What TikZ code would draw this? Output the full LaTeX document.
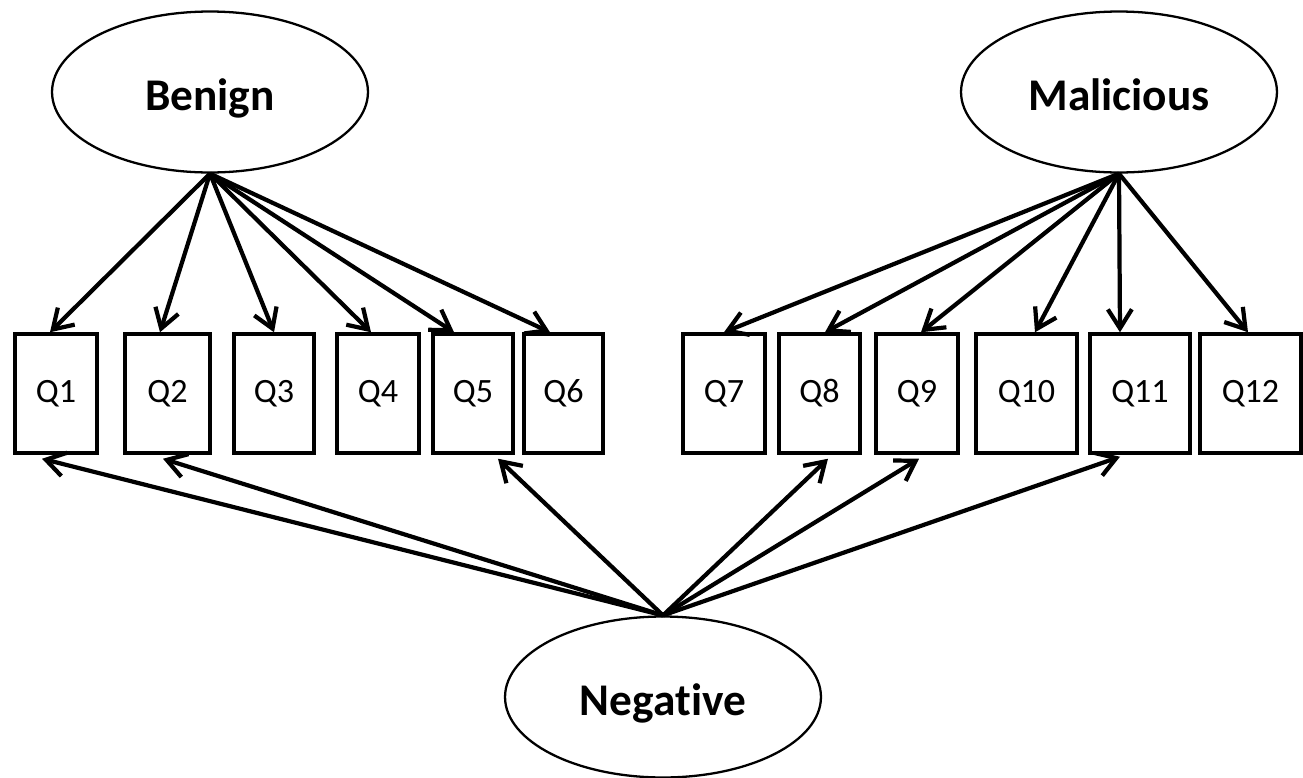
\documentclass[tikz,border=0pt]{standalone}
\usepackage{fontspec}
\setmainfont[Ligatures=NoCommon]{Carlito}
\usetikzlibrary{arrows.meta,calc,shapes.geometric}
\tikzset{
 latent/.style={ellipse,draw,line width=1.3pt,minimum width=6.32cm,minimum height=3.22cm,text height=0.72cm,text depth=0pt,font=\fontsize{25.8}{30}\selectfont\bfseries},
 item/.style={rectangle,draw,line width=2pt,minimum height=2.38cm,inner sep=0pt,font=\fontsize{19.4}{23}\selectfont},
 load/.style={line width=2.4pt,-{Straight Barb[length=0.38cm,width=0.48cm]}}
}
\begin{document}
\begin{tikzpicture}[x=0.02cm,y=-0.02cm]
 \useasboundingbox (0,0) rectangle (1303,778);
 \node[latent] (benign) at (210,92) {Benign};
 \node[latent] (malicious) at (1119,92) {Malicious};
 \node[latent] (negative) at (663,697) {Negative};
 \node[item,minimum width=1.64cm] (q1) at (56,393.5) {Q1};
 \node[item,minimum width=1.70cm] (q2) at (167.5,393.5) {Q2};
 \node[item,minimum width=1.60cm] (q3) at (274,393.5) {Q3};
 \node[item,minimum width=1.64cm] (q4) at (378,393.5) {Q4};
 \node[item,minimum width=1.60cm] (q5) at (473,393.5) {Q5};
 \node[item,minimum width=1.58cm] (q6) at (563.5,393.5) {Q6};
 \node[item,minimum width=1.64cm] (q7) at (724,393.5) {Q7};
 \node[item,minimum width=1.62cm] (q8) at (819.5,393.5) {Q8};
 \node[item,minimum width=1.64cm] (q9) at (917,393.5) {Q9};
 \node[item,minimum width=2.02cm] (q10) at (1026.5,393.5) {Q10};
 \node[item,minimum width=2.00cm] (q11) at (1140,393.5) {Q11};
 \node[item,minimum width=2.02cm] (q12) at (1250.5,393.5) {Q12};
 \draw[load] (benign.south) -- ([xshift=-0.12cm]q1.north);
 \draw[load] (benign.south) -- ([xshift=-0.15cm]q2.north);
 \draw[load] (benign.south) -- (q3.north);
 \draw[load] (benign.south) -- ([xshift=-0.14cm]q4.north);
 \draw[load] (benign.south) -- ([xshift=-0.38cm]q5.north);
 \draw[load] (benign.south) -- ([xshift=-0.27cm]q6.north);
 \draw[load] (malicious.south) -- (q7.north);
 \draw[load] (malicious.south) -- ([xshift=0.11cm]q8.north);
 \draw[load] (malicious.south) -- ([xshift=0.08cm]q9.north);
 \draw[load] (malicious.south) -- ([xshift=0.17cm]q10.north);
 \draw[load] (malicious.south) -- ([xshift=-0.4cm]q11.north);
 \draw[load] (malicious.south) -- ([xshift=-0.05cm]q12.north);
 \draw[load] (negative.north) -- ([xshift=-0.28cm,yshift=-0.08cm]q1.south);
 \draw[load] (negative.north) -- ([xshift=-0.09cm,yshift=-0.08cm]q2.south);
 \draw[load] (negative.north) -- ([xshift=0.5cm,yshift=-0.08cm]q5.south);
 \draw[load] (negative.north) -- ([xshift=0.17cm,yshift=-0.08cm]q8.south);
 \draw[load] (negative.north) -- ([xshift=0.04cm,yshift=-0.08cm]q9.south);
 \draw[load] (negative.north) -- ([xshift=-0.4cm,yshift=-0.04cm]q11.south);
\end{tikzpicture}
\end{document}
